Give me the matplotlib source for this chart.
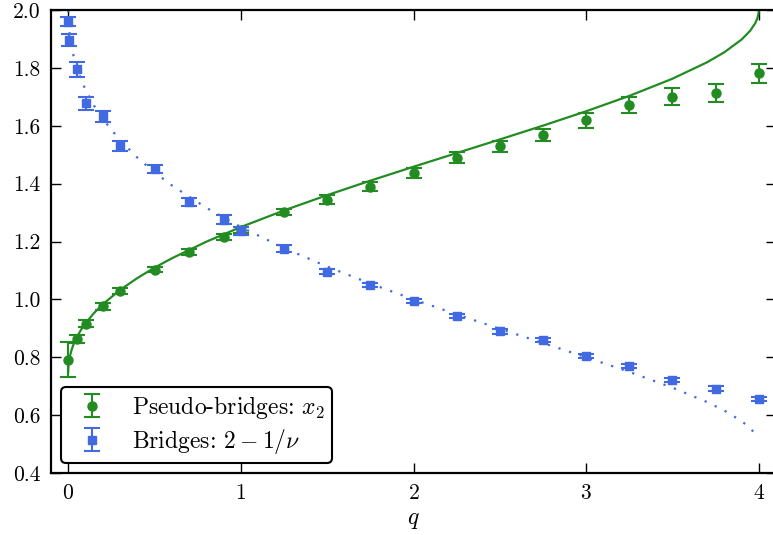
import matplotlib

matplotlib.use("Agg")
import matplotlib.pyplot as plt

# measured exponents
Q_PSEUDO = [0.0, 0.05, 0.1, 0.2, 0.3, 0.5, 0.7, 0.9, 1.0, 1.25, 1.5, 1.75,
            2.0, 2.25, 2.5, 2.75, 3.0, 3.25, 3.5, 3.75, 4.0]
X2_PSEUDO = [0.791, 0.862, 0.916, 0.977, 1.029, 1.103, 1.164, 1.216, 1.240,
             1.302, 1.345, 1.389, 1.436, 1.490, 1.530, 1.567, 1.619, 1.672,
             1.701, 1.713, 1.781]
ERR_PSEUDO = [0.060, 0.014, 0.013, 0.012, 0.011, 0.010, 0.010, 0.011, 0.011,
              0.012, 0.014, 0.016, 0.017, 0.018, 0.019, 0.021, 0.026, 0.028,
              0.030, 0.031, 0.033]

Q_BRIDGE = [0.0, 0.005, 0.05, 0.1, 0.2, 0.3, 0.5, 0.7, 0.9, 1.0, 1.25, 1.5,
            1.75, 2.0, 2.25, 2.5, 2.75, 3.0, 3.25, 3.5, 3.75, 4.0]
Y_BRIDGE = [1.960, 1.896, 1.795, 1.677, 1.633, 1.529, 1.449, 1.337, 1.276,
            1.236, 1.175, 1.096, 1.050, 0.993, 0.942, 0.889, 0.858, 0.804,
            0.769, 0.720, 0.692, 0.656]
ERR_BRIDGE = [0.015, 0.022, 0.026, 0.023, 0.019, 0.017, 0.014, 0.014, 0.015,
              0.014, 0.012, 0.008, 0.007, 0.007, 0.007, 0.007, 0.007, 0.007,
              0.007, 0.007, 0.007, 0.007]

# exact curves, tabulated
Q_THEORY = [0.0, 0.0002, 0.001, 0.002, 0.005, 0.01, 0.02, 0.03, 0.05, 0.075,
            0.1, 0.15, 0.2, 0.3, 0.4, 0.5, 0.6, 0.8, 1.0, 1.25, 1.5, 1.75,
            2.0, 2.25, 2.5, 2.75, 3.0, 3.25, 3.5, 3.7, 3.8, 3.9, 3.95, 3.98,
            3.99, 3.995, 3.999, 4.0]
X2_THEORY = [0.7500, 0.7579, 0.7675, 0.7747, 0.7889, 0.8047, 0.8269, 0.8437,
             0.8701, 0.8960, 0.9176, 0.9534, 0.9832, 1.0325, 1.0736, 1.1096,
             1.1419, 1.1993, 1.2500, 1.3074, 1.3602, 1.4102, 1.4583, 1.5055,
             1.5526, 1.6004, 1.6500, 1.7031, 1.7625, 1.8191, 1.8537, 1.8976,
             1.9280, 1.9547, 1.9680, 1.9774, 1.9899, 2.0000]

Q_NU = [0.0, 0.002, 0.005, 0.01, 0.02, 0.03, 0.05, 0.075, 0.1, 0.15, 0.2,
        0.3, 0.4, 0.5, 0.6, 0.8, 1.0, 1.25, 1.5, 1.75, 2.0, 2.25, 2.5, 2.75,
        3.0, 3.25, 3.5, 3.7, 3.8, 3.9, 3.95, 3.98, 3.99]
NU_THEORY = [2.0000, 1.9579, 1.9340, 1.9074, 1.8707, 1.8431, 1.8003, 1.7588,
             1.7246, 1.6689, 1.6234, 1.5497, 1.4900, 1.4389, 1.3939, 1.3163,
             1.2500, 1.1776, 1.1133, 1.0546, 1.0000, 0.9482, 0.8982, 0.8492,
             0.8000, 0.7494, 0.6950, 0.6453, 0.6160, 0.5798, 0.5555, 0.5346,
             0.5243]

GREEN = "#228b22"
BLUE = "#4169e1"

plt.rcParams["font.family"] = "serif"
plt.rcParams["font.serif"] = ["cmr10", "DejaVu Serif"]
plt.rcParams["mathtext.fontset"] = "cm"
plt.rcParams["axes.formatter.use_mathtext"] = True

fig = plt.figure(figsize=(7.73, 5.35), dpi=100)
ax = fig.add_axes([51 / 773, 62 / 535, 725 / 773, 463 / 535])

ax.plot(Q_THEORY, X2_THEORY, color=GREEN, lw=1.6, zorder=2)
ax.plot(Q_NU, NU_THEORY, color=BLUE, lw=1.6, dashes=(1, 4), zorder=2)

ax.errorbar(Q_PSEUDO, X2_PSEUDO, yerr=ERR_PSEUDO, fmt="o", color=GREEN,
            ms=6.5, capsize=5.8, elinewidth=1.5, capthick=1.5,
            label=r"Pseudo-bridges: $x_2$", zorder=3)
ax.errorbar(Q_BRIDGE, Y_BRIDGE, yerr=ERR_BRIDGE, fmt="s", color=BLUE,
            ms=6, capsize=5.8, elinewidth=1.5, capthick=1.5,
            label=r"Bridges: $2-1/\nu$", zorder=4)

ax.set_xlim(-0.1, 4.1)
ax.set_ylim(0.4, 2.0)
ax.set_xticks([0, 1, 2, 3, 4])
ax.set_yticks([0.4, 0.6, 0.8, 1.0, 1.2, 1.4, 1.6, 1.8, 2.0])
ax.set_yticklabels(["0.4", "0.6", "0.8", "1.0", "1.2", "1.4", "1.6", "1.8", "2.0"])
ax.tick_params(direction="in", length=7.5, width=1, top=True, right=True,
               labelsize=15.5, pad=7.5)
for sp in ax.spines.values():
    sp.set_linewidth(1.6)
ax.set_xlabel(r"$q$", fontsize=17, labelpad=4)

leg = ax.legend(loc="lower left", fontsize=17, fancybox=True, framealpha=1,
                borderaxespad=0.43, handlelength=2.0, handletextpad=0.7,
                labelspacing=0.25, borderpad=0.3)
leg.get_frame().set_edgecolor("black")
leg.get_frame().set_linewidth(1.5)

fig.savefig("out.png", dpi=100)
